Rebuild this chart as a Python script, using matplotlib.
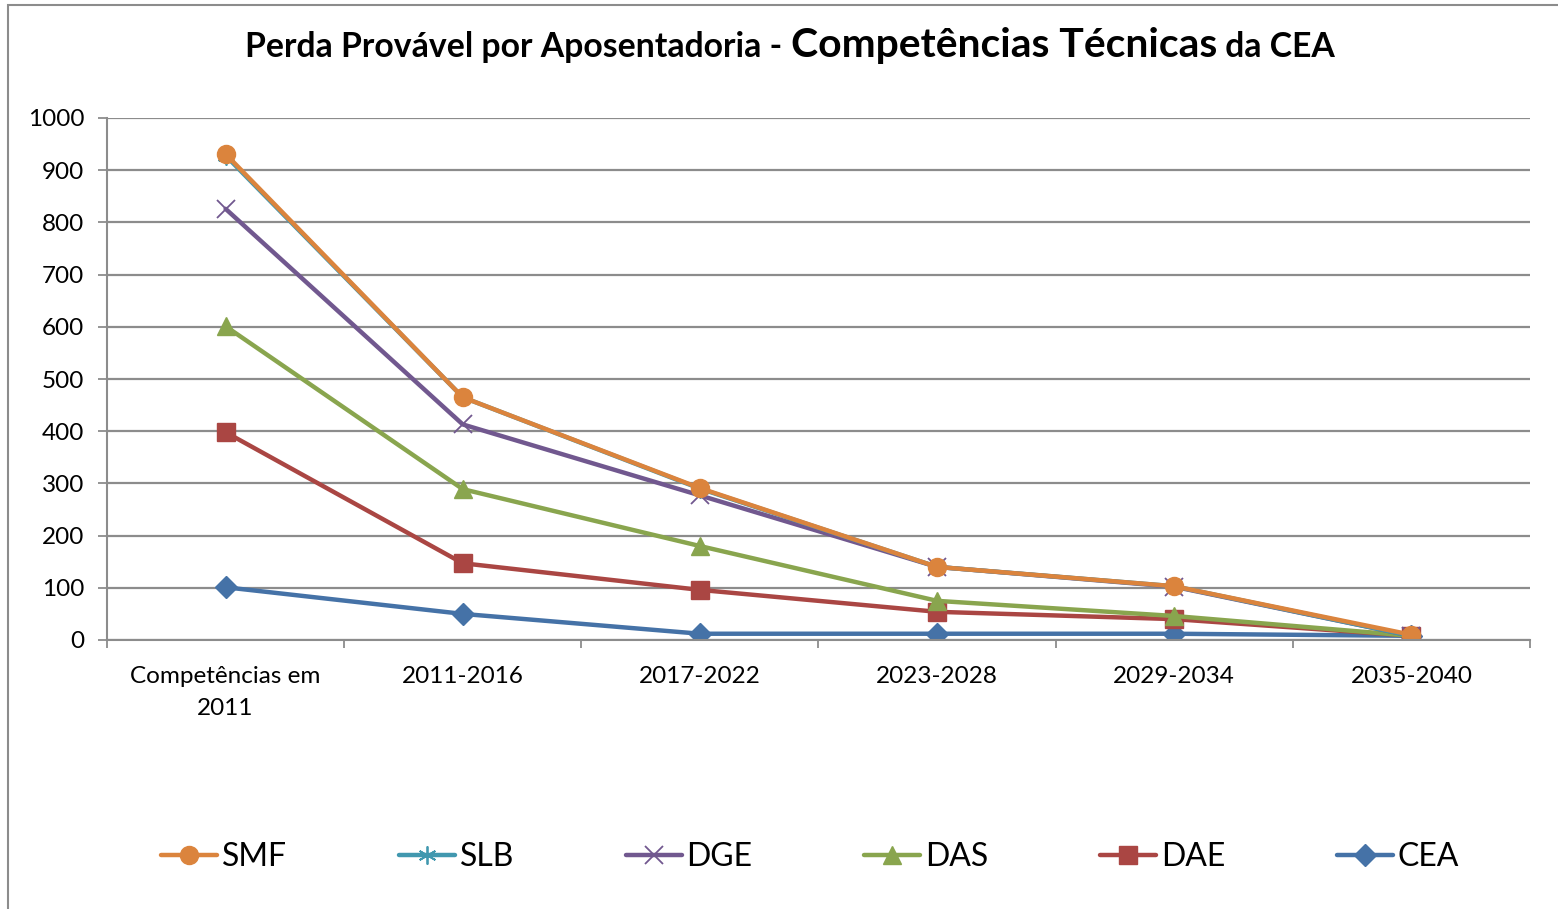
import matplotlib
matplotlib.use("Agg")
import matplotlib.pyplot as plt
from matplotlib.patches import Rectangle
import numpy as np

categories = ["Competências em\n2011", "2011-2016", "2017-2022", "2023-2028", "2029-2034", "2035-2040"]
smf = [931, 465, 291, 140, 103, 10]
slb = [928, 465, 290, 140, 103, 8]
dge = [826, 413, 277, 140, 102, 8]
das = [601, 289, 180, 75, 46, 8]
dae = [398, 147, 96, 54, 40, 8]
cea = [101, 50, 12, 12, 12, 8]
yticks = [0, 100, 200, 300, 400, 500, 600, 700, 800, 900, 1000]

W, H = 1558, 909
fig = plt.figure(figsize=(W / 100, H / 100), dpi=100)
plt.rcParams['font.family'] = ['Lato', 'DejaVu Sans']

# outer frame
fig.patches.append(Rectangle((8 / W, -0.01), 1.0, 1 - 5 / H + 0.01, transform=fig.transFigure,
                             fill=False, edgecolor='#8c8c8c', linewidth=1.5))

ax = fig.add_axes([107 / W, 1 - 640 / H, (1530 - 107) / W, (640 - 118) / H])
x = np.arange(len(categories))

series = [
    ("CEA", cea, '#4572A7', 'D', 11, {}),
    ("DAE", dae, '#AA4643', 's', 13, {}),
    ("DAS", das, '#89A54E', '^', 13, {}),
    ("DGE", dge, '#71588F', 'x', 13, {'markeredgewidth': 1.3}),
    ("SLB", slb, '#4198AF', (6, 2, 0), 13, {'markeredgewidth': 1.3}),
    ("SMF", smf, '#DB843D', 'o', 13, {}),
]
handles = {}
for name, vals, col, mk, ms, kw in series:
    ln, = ax.plot(x, vals, color=col, linewidth=3.2, marker=mk, markersize=ms,
                  markerfacecolor=col, markeredgecolor=col, label=name,
                  solid_capstyle='round', **kw)
    handles[name] = ln

ax.set_xlim(-0.5, len(categories) - 0.5)
ax.set_ylim(0, 1000)
ax.set_yticks(yticks)
ax.set_yticklabels([str(v) for v in yticks], fontsize=17.5)
ax.set_xticks(x)
ax.set_xticklabels(categories, fontsize=17.5, linespacing=1.6)
ax.set_xticks(np.arange(len(categories) + 1) - 0.5, minor=True)
ax.tick_params(axis='x', which='major', length=0, pad=19)
ax.tick_params(axis='x', which='minor', length=6, width=1.3, color='#8c8c8c', direction='out')
ax.tick_params(axis='y', length=6.5, width=1.3, color='#8c8c8c', direction='out', pad=10)
ax.yaxis.grid(True, color='#8c8c8c', linewidth=1.6)
ax.set_axisbelow(True)
for s in ['top', 'right']:
    ax.spines[s].set_visible(False)
for s in ['left', 'bottom']:
    ax.spines[s].set_color('#8c8c8c')
    ax.spines[s].set_linewidth(1.5)

order = ["SMF", "SLB", "DGE", "DAS", "DAE", "CEA"]
fig.legend([handles[n] for n in order], order, loc='center', ncol=6,
           bbox_to_anchor=(0.52, 1 - 857 / H), frameon=False, fontsize=23,
           handlelength=1.75, handletextpad=0.15, columnspacing=3.5)

# title with mixed sizes
parts = [("Perda Provável por Aposentadoria - ", 24.3), ("Competências Técnicas", 29.4), (" da CEA", 24.3)]
renderer = fig.canvas.get_renderer()
texts = []
widths = []
for s, fs in parts:
    t = fig.text(0, 1 - 57 / H, s, fontsize=fs, fontweight='bold', va='baseline', ha='left')
    bb = t.get_window_extent(renderer=renderer)
    texts.append(t)
    widths.append(bb.width)
total = sum(widths)
x0 = 790 - total / 2
for t, w in zip(texts, widths):
    t.set_x(x0 / W)
    x0 += w

fig.savefig("out.png", dpi=100)
